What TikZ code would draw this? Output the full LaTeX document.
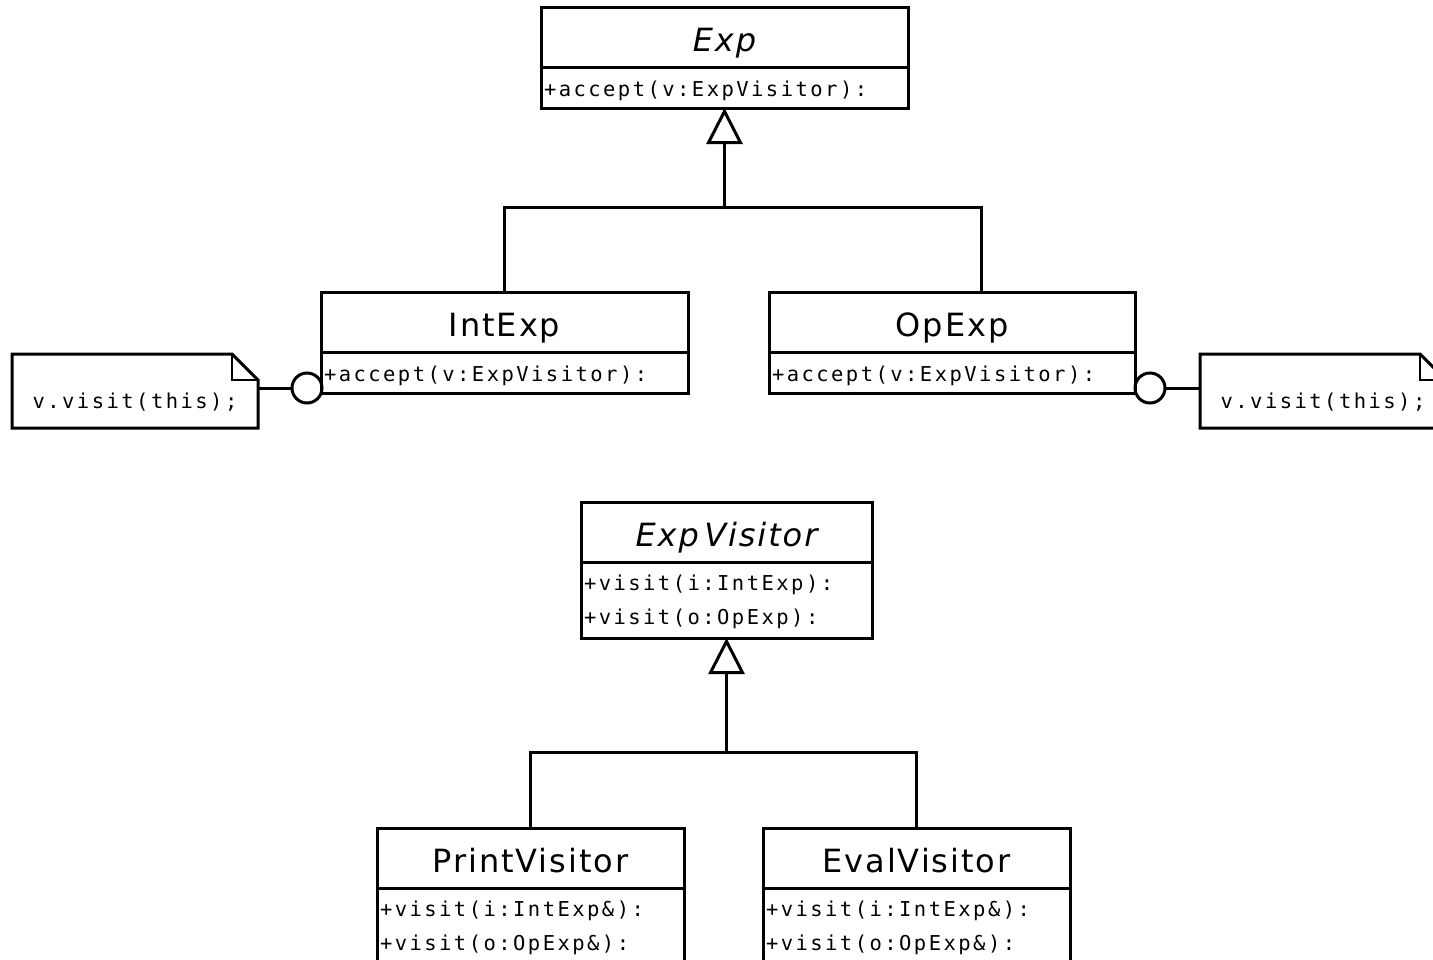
\documentclass[tikz,border=0pt]{standalone}
\usepackage{fontspec}
\setmainfont{DejaVu Sans}
\newfontfamily\titlefont[LetterSpace=6]{DejaVu Sans}
\newfontfamily\monofont[LetterSpace=12]{DejaVu Sans Mono}
\usetikzlibrary{shapes,calc,arrows.meta}

% struts for the operation compartments
\newcommand{\onestrut}{\rule[-12pt]{0pt}{41pt}}
\newcommand{\topstrut}{\rule{0pt}{28pt}}
\newcommand{\botstrut}{\rule[-14pt]{0pt}{0pt}}

\begin{document}
\begin{tikzpicture}[x=1pt,y=-1pt,line width=3pt,
    clsname/.style={draw,anchor=north west,inner ysep=0pt,outer sep=0pt,
      text height=44pt,text depth=16pt,font=\titlefont\fontsize{32}{36}\selectfont},
    clsops/.style={draw,anchor=north west,inner xsep=3pt,inner ysep=0pt,outer sep=0pt,
      align=left,font=\monofont\fontsize{20.5}{34}\selectfont},
    notebox/.style={minimum width=246pt,inner xsep=0pt,inner ysep=0pt,outer sep=0pt,
      text height=54pt,text depth=20pt,anchor=north west,
      font=\monofont\fontsize{20.5}{34}\selectfont},
    socket/.style={draw,circle,minimum size=30pt,inner sep=0pt,outer sep=0pt},
    inherit/.style={-{Triangle[open,length=36pt,width=36pt]}}]

    \useasboundingbox (0,0) rectangle (1433,959);

    % expression hierarchy
    \node[clsname,minimum width=367pt] (exp) at (541,7) {\itshape Exp};
    \node[clsops,text width=361pt] (exp-ops) at (exp.south west) {\onestrut+accept(v:ExpVisitor):};

    \node[clsname,minimum width=367pt] (intexp) at (321,292) {IntExp};
    \node[clsops,text width=361pt] (intexp-ops) at (intexp.south west) {\onestrut+accept(v:ExpVisitor):};

    \node[clsname,minimum width=366pt] (opexp) at (769,292) {OpExp};
    \node[clsops,text width=360pt] (opexp-ops) at (opexp.south west) {\onestrut+accept(v:ExpVisitor):};

    \coordinate (expjoin) at (724.5,207);
    \draw (intexp.north) |- (expjoin) -| ($(opexp.north west)+(212,0)$);
    \draw[inherit] (expjoin) -- (exp-ops.south);

    % notes on accept()
    \node[notebox] (lnote) at (12,354) {v.visit(this);};
    \node[notebox] (rnote) at (1200,354) {v.visit(this);};
    \foreach \n in {lnote,rnote} {
      \draw (\n.south west) -- (\n.north west) -- ($(\n.north east)+(-26,0)$)
        -- ($(\n.north east)+(0,26)$) -- (\n.south east) -- cycle;
      \draw[line width=1.5pt] ($(\n.north east)+(-26,0)$) |- ($(\n.north east)+(0,26)$);
    }

    \node[socket] (intsock) at (307,388) {};
    \node[socket] (opsock) at (1150,388) {};
    \draw (intsock) -- (lnote.east |- intsock);
    \draw (opsock) -- (rnote.west |- opsock);

    % visitor hierarchy
    \node[clsname,minimum width=291pt] (visitor) at (581,502) {\itshape Exp\,Visitor};
    \node[clsops,text width=285pt] (visitor-ops) at (visitor.south west) {%
      \topstrut+visit(i:IntExp):\\
      \botstrut+visit(o:OpExp):};

    \node[clsname,minimum width=307pt] (printv) at (377,828) {PrintVisitor};
    \node[clsops,text width=301pt] (printv-ops) at (printv.south west) {%
      \topstrut+visit(i:IntExp\&):\\
      \botstrut+visit(o:OpExp\&):};

    \node[clsname,minimum width=307pt] (evalv) at (763,828) {EvalVisitor};
    \node[clsops,text width=301pt] (evalv-ops) at (evalv.south west) {%
      \topstrut+visit(i:IntExp\&):\\
      \botstrut+visit(o:OpExp\&):};

    \coordinate (visjoin) at (visitor.south |- 0,752);
    \draw (printv.north) |- (visjoin) -| (evalv.north);
    \draw[inherit] (visjoin) -- (visitor-ops.south);

  \end{tikzpicture}
\end{document}
